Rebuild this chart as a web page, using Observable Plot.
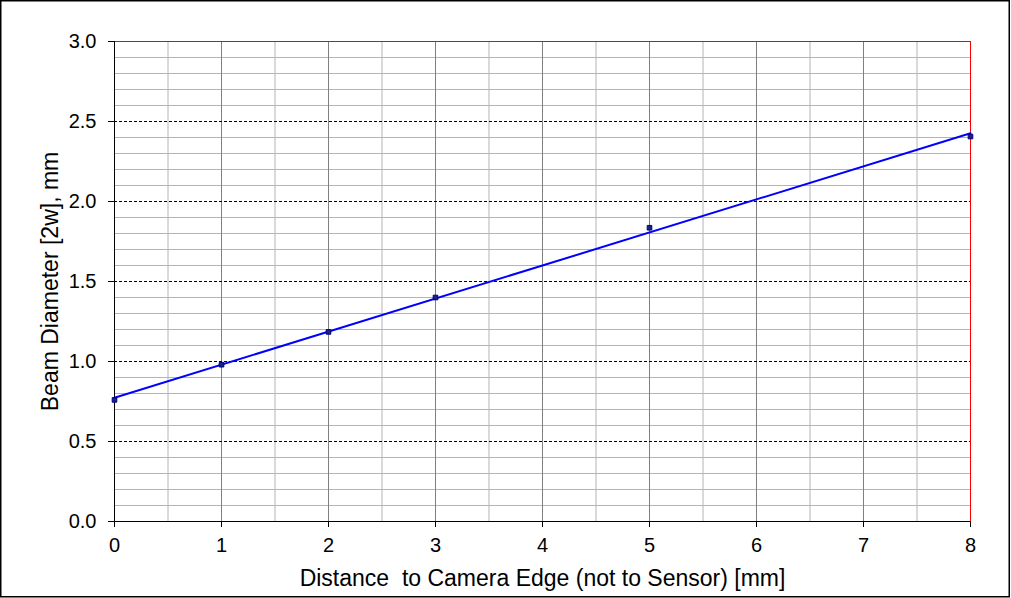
<!DOCTYPE html>
<html>
<head>
<meta charset="utf-8">
<script src="https://cdn.jsdelivr.net/npm/d3@7"></script>
<script src="https://cdn.jsdelivr.net/npm/@observablehq/plot@0.6"></script>
<style>
  html, body { margin: 0; padding: 0; background: #fff; }
  #chart { width: 1011px; height: 598px; }
</style>
</head>
<body>
<div id="chart"></div>
<script>
// Data
const distance = [0, 1, 2, 3, 5, 8];          // mm, distance to camera edge
const diameter = [0.76, 0.98, 1.185, 1.40, 1.836, 2.406]; // mm, beam diameter [2w]

const xTicks = [0, 1, 2, 3, 4, 5, 6, 7, 8];
const yTicks = [0, 0.5, 1.0, 1.5, 2.0, 2.5, 3.0];
const xMinor = [0.5, 1.5, 2.5, 3.5, 4.5, 5.5, 6.5, 7.5];
const yMinor = [0.1, 0.2, 0.3, 0.4, 0.6, 0.7, 0.8, 0.9, 1.1, 1.2, 1.3, 1.4, 1.6, 1.7, 1.8, 1.9, 2.1, 2.2, 2.3, 2.4, 2.6, 2.7, 2.8, 2.9];

const xTitle = "Distance  to Camera Edge (not to Sensor) [mm]";
const yTitle = "Beam Diameter [2w], mm";

const data = distance.map((d, i) => ({x: d, y: diameter[i]}));

const font = "Liberation Sans, Arial, sans-serif";

const chart = Plot.plot({
  width: 1011,
  height: 598,
  marginLeft: 114,
  marginRight: 41,
  marginTop: 41,
  marginBottom: 77,
  style: {fontFamily: font, background: "#fff", color: "#000"},
  x: {domain: [0, 8]},
  y: {domain: [0, 3]},
  marks: [
    Plot.ruleY(yMinor, {stroke: "#b4b4b4", strokeWidth: 1}),
    Plot.ruleX(xMinor, {stroke: "#b4b4b4", strokeWidth: 1}),
    Plot.ruleX(xTicks.filter(d => d > 0 && d < 8), {stroke: "#808080", strokeWidth: 1}),
    Plot.ruleY(yTicks.filter(d => d > 0 && d < 3), {stroke: "#000", strokeWidth: 1, strokeDasharray: "3,2"}),
    Plot.ruleY([3], {stroke: "#ff0000", strokeWidth: 1}),
    Plot.ruleX([8], {stroke: "#ff0000", strokeWidth: 1}),
    Plot.ruleX([0], {stroke: "#000", strokeWidth: 1}),
    Plot.ruleY([0], {stroke: "#000", strokeWidth: 1}),
    Plot.axisY({ticks: yTicks, tickFormat: d3.format(".1f"), tickSize: 6, tickPadding: 12, fontSize: 20, label: null}),
    Plot.axisX({ticks: xTicks, tickFormat: d3.format("d"), tickSize: 6, tickPadding: 10, fontSize: 20, label: null}),
    Plot.linearRegressionY(data, {x: "x", y: "y", stroke: "#0000ff", strokeWidth: 2, ci: 0}),
    Plot.dot(data, {x: "x", y: "y", symbol: "square", r: 2.6, fill: "#1a237e", stroke: "#000080", strokeWidth: 1}),
    Plot.text([yTitle], {frameAnchor: "left", dx: -64, rotate: -90, fontSize: 23, textAnchor: "middle", fill: "#000"}),
    Plot.text([xTitle], {frameAnchor: "bottom", dy: 57, fontSize: 23, textAnchor: "middle", lineAnchor: "middle", fill: "#000"})
  ]
});

// outer chart-area border
d3.select(chart).append("rect")
  .attr("x", 0.75).attr("y", 0.75)
  .attr("width", 1008.5).attr("height", 596)
  .attr("fill", "none").attr("stroke", "#000").attr("stroke-width", 1.5);

document.getElementById("chart").appendChild(chart);
</script>
</body>
</html>
